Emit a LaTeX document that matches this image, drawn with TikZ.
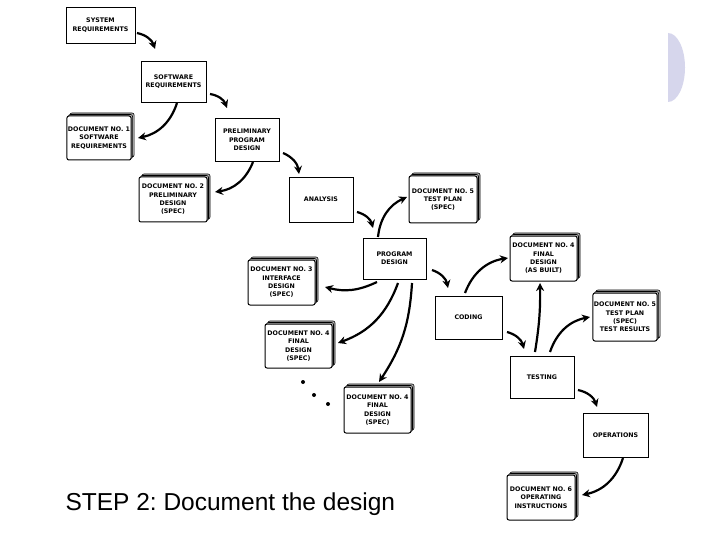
\documentclass[tikz,border=0pt]{standalone}
\usepackage{fontspec}
\setmainfont{Liberation Sans}
\newfontfamily\boxfont{DejaVu Sans}
\usetikzlibrary{arrows.meta, shadows}
\definecolor{lavender}{RGB}{214,214,236}
\frenchspacing

\begin{document}
\begin{tikzpicture}[x=1pt, y=1pt]
            \tikzstyle{process} = [rectangle, minimum width=65, minimum height=43, text centered, align=center, draw=black, line width=0.8pt, fill=white, inner sep=1pt, font=\boxfont\bfseries\fontsize{6.3}{8.3}\selectfont]
            \tikzstyle{doc} = [process, rounded corners=2pt, line width=1pt, minimum width=67, minimum height=45, double copy shadow={shadow xshift=1.5pt, shadow yshift=1.5pt, fill=gray!55, draw=black, line width=0.6pt}]
            \tikzstyle{arrow} = [line width=2.2pt, -{Stealth[length=8pt, width=8pt]}, bend left=30]

            \fill[white] (0,0) rectangle (720,-540);
            \useasboundingbox (0,0) rectangle (720,-540);
            \fill[lavender] (668,-33) arc[start angle=90, end angle=-90, x radius=17, y radius=34.5] -- cycle;

            % steps
            \node (sys) [process, minimum width=69, minimum height=36] at (100.5,-25) {SYSTEM\\REQUIREMENTS};
            \node (soft) [process, minimum height=41] at (173.5,-81.5) {SOFTWARE\\REQUIREMENTS};
            \node (prelim) [process, minimum width=64] at (247,-140) {PRELIMINARY\\PROGRAM\\DESIGN};
            \node (analysis) [process, minimum width=64, minimum height=45] at (321,-199.5) {ANALYSIS};
            \node (progdesign) [process, minimum width=63, minimum height=41] at (394.5,-258.5) {PROGRAM\\DESIGN};
            \node (coding) [process, minimum width=67] at (468.5,-317.5) {CODING};
            \node (testing) [process, minimum width=64, minimum height=42] at (542,-377) {TESTING};
            \node (operations) [process, minimum height=44] at (615.5,-435) {OPERATIONS};

            % documents
            \node (doc1) [doc, minimum width=64, minimum height=44] at (99,-138) {DOCUMENT NO. 1\\SOFTWARE\\REQUIREMENTS};
            \node (doc2) [doc, minimum width=68] at (173,-199.5) {DOCUMENT NO. 2\\PRELIMINARY\\DESIGN\\(SPEC)};
            \node (doc5plan) [doc, minimum width=68, minimum height=47] at (443,-199.5) {DOCUMENT NO. 5\\TEST PLAN\\(SPEC)};
            \node (doc4built) [doc] at (543.5,-258.5) {DOCUMENT NO. 4\\FINAL\\DESIGN\\(AS BUILT)};
            \node (doc3) [doc] at (281.5,-282.5) {DOCUMENT NO. 3\\INTERFACE\\DESIGN\\(SPEC)};
            \node (doc4a) [doc, minimum height=44] at (298.5,-346) {DOCUMENT NO. 4\\FINAL\\DESIGN\\(SPEC)};
            \node (doc4b) [doc, minimum height=46] at (377.5,-410) {DOCUMENT NO. 4\\FINAL\\DESIGN\\(SPEC)};
            \node (doc5res) [doc, minimum width=64, minimum height=48] at (625,-317) {DOCUMENT NO. 5\\TEST PLAN\\(SPEC)\\TEST RESULTS};
            \node (doc6) [doc, minimum width=68] at (541,-497.5) {DOCUMENT NO. 6\\OPERATING\\INSTRUCTIONS};

            \foreach \x/\y in {303/382, 314/395, 328/404}
                \fill (\x,-\y) circle (2);

            \node (caption) [anchor=base west, font=\fontsize{24.5}{29}\selectfont] at (62,-510) {STEP 2: Document the design};

            \draw [arrow] ([shift={(36.5,-8)}]sys.center) to ([shift={(-18.5,32.5)}]soft.center);
            \draw [arrow] ([shift={(36.5,-12.5)}]soft.center) to ([shift={(-20,32)}]prelim.center);
            \draw [arrow] ([shift={(3.5,-21.5)}]soft.center) to ([shift={(39,0)}]doc1.center);
            \draw [arrow] ([shift={(6,-22)}]prelim.center) to ([shift={(42,7.5)}]doc2.center);
            \draw [arrow] ([shift={(36,-13)}]prelim.center) to ([shift={(-22,25.5)}]analysis.center);
            \draw [arrow] ([shift={(36,-12.5)}]analysis.center) to ([shift={(-21.5,30.5)}]progdesign.center);
            \draw [arrow] ([shift={(-16.5,21.5)}]progdesign.center) to ([shift={(-36,2.5)}]doc5plan.center);
            \draw [arrow, bend left=20] ([shift={(-17.5,-23.5)}]progdesign.center) to ([shift={(43.5,-4.5)}]doc3.center);
            \draw [arrow, bend left=25] ([shift={(3.5,-24.5)}]progdesign.center) to ([shift={(39.5,3)}]doc4a.center);
            \draw [arrow, bend left=15] ([shift={(17.5,-24.5)}]progdesign.center) to ([shift={(1.5,28)}]doc4b.center);
            \draw [arrow] ([shift={(37.5,-11.5)}]progdesign.center) to ([shift={(-20.5,29.5)}]coding.center);
            \draw [arrow] ([shift={(-3.5,24.5)}]coding.center) to ([shift={(-35.5,0.5)}]doc4built.center);
            \draw [arrow] ([shift={(38.5,-14.5)}]coding.center) to ([shift={(-18,28)}]testing.center);
            \draw [arrow, bend right=5] ([shift={(-7,25)}]testing.center) to ([shift={(-3.5,-24.5)}]doc4built.center);
            \draw [arrow] ([shift={(8,25)}]testing.center) to ([shift={(-35,0)}]doc5res.center);
            \draw [arrow] ([shift={(36,-13)}]testing.center) to ([shift={(-18.5,28)}]operations.center);
            \draw [arrow] ([shift={(7.5,-23)}]operations.center) to ([shift={(41,2.5)}]doc6.center);
        \end{tikzpicture}
\end{document}
